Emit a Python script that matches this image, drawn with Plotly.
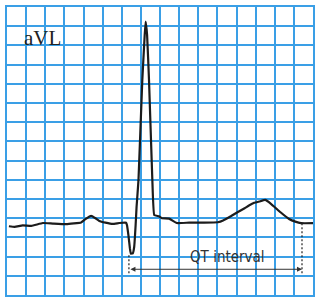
import plotly.graph_objects as go

# ECG trace (time in ms, amplitude in mV)
t_ms = [4, 16, 33, 51, 75, 96, 124, 155, 164, 176, 185, 193, 206, 221, 235, 249,
        251, 254, 257, 259, 263, 266, 269, 271, 275, 283, 288, 290, 293, 297, 304,
        308, 318, 324, 339, 355, 381, 412, 441, 452, 468, 482, 497, 506, 517, 528,
        540, 552, 572, 590, 603, 615, 643]
mv = [-0.042, -0.045, -0.037, -0.040, -0.025, -0.028, -0.031, -0.022, -0.005, 0.012,
      0.0, -0.014, -0.023, -0.030, -0.025, -0.023,
      -0.037, -0.089, -0.156, -0.184, -0.183, -0.150, -0.037, 0.059, 0.198, 0.720,
      0.955, 1.024, 0.955, 0.720, 0.198,
      0.016, 0.010, 0.0, -0.002, -0.025, -0.023, -0.023, -0.021, -0.012, 0.010, 0.031,
      0.052, 0.066, 0.080, 0.087, 0.095, 0.075, 0.031, -0.004, -0.018, -0.026, -0.026]

# QT interval annotation
qt_start, qt_end = 255, 617
qt_left_top, qt_right_top, qt_bottom = -0.193, -0.026, -0.297
qt_arrow_y = -0.266
qt_label = "QT interval"
lead_label = "aVL"

grid = "#3a9fe6"
fig = go.Figure()
fig.add_trace(go.Scatter(x=t_ms, y=mv, mode="lines",
                         line=dict(color="#1c1c1c", width=2.2, shape="spline", smoothing=0.3),
                         hoverinfo="skip", showlegend=False))
# dotted verticals
fig.add_trace(go.Scatter(x=[qt_start, qt_start, None, qt_end, qt_end],
                         y=[qt_left_top, qt_bottom, None, qt_right_top, qt_bottom],
                         mode="lines", line=dict(color="#222", width=1.2, dash="2px,2px"),
                         hoverinfo="skip", showlegend=False))
# double arrow
fig.add_annotation(x=qt_end, y=qt_arrow_y, ax=qt_start, ay=qt_arrow_y,
                   xref="x", yref="y", axref="x", ayref="y", text="",
                   showarrow=True, arrowhead=2, arrowside="end+start",
                   arrowsize=1, arrowwidth=1, arrowcolor="#333")
fig.add_annotation(x=(qt_start + qt_end) / 2 + 26, y=qt_arrow_y, yshift=1, text=qt_label,
                   showarrow=False, yanchor="bottom", xanchor="center",
                   font=dict(family="DejaVu Sans Condensed, Roboto", size=15, color="#333"))
fig.add_annotation(x=0.05, y=0.94, xref="paper", yref="paper", text=lead_label,
                   showarrow=False, xanchor="left", yanchor="top",
                   font=dict(family="Liberation Serif", size=21, color="#222"))

fig.update_xaxes(range=[0, 640], dtick=40, tick0=0, showgrid=True, gridcolor=grid,
                 gridwidth=1.8, zeroline=False, showticklabels=False, ticks="",
                 showline=True, mirror=True, linecolor=grid, linewidth=1.8, fixedrange=True)
fig.update_yaxes(range=[-0.4, 1.1], dtick=0.1, tick0=0, showgrid=True, gridcolor=grid,
                 gridwidth=1.8, zeroline=True, zerolinecolor=grid, zerolinewidth=1.8,
                 showticklabels=False, ticks="",
                 showline=True, mirror=True, linecolor=grid, linewidth=1.8, fixedrange=True)
fig.update_layout(width=316, height=297, margin=dict(l=7, r=1, t=7, b=2),
                  paper_bgcolor="white", plot_bgcolor="white")
fig.write_html("out.html", config={"displayModeBar": False},
               post_script="document.body.style.margin='0';document.body.style.padding='0';")
